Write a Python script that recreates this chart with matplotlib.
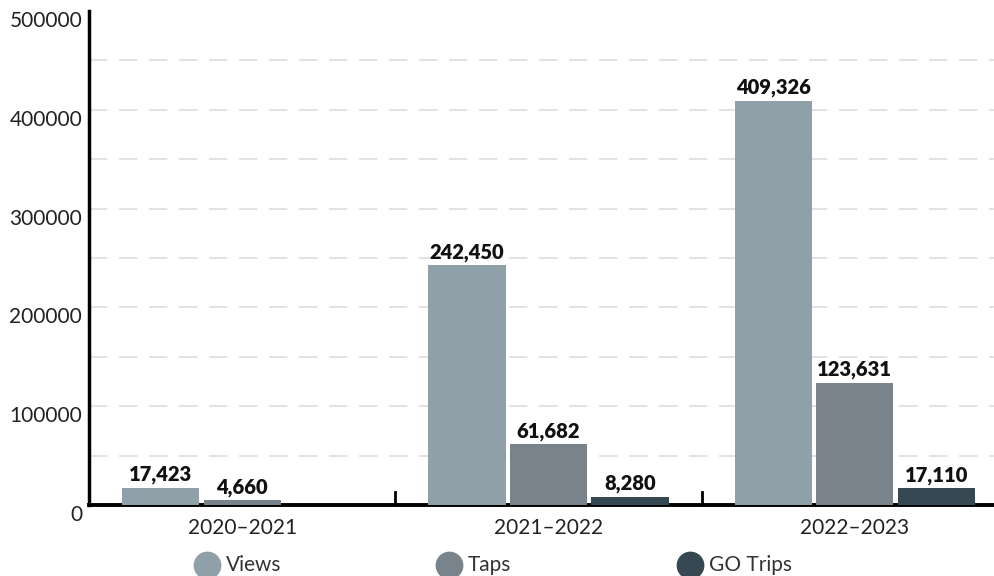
import numpy as np
import matplotlib
matplotlib.use("Agg")
import matplotlib.pyplot as plt
from matplotlib.lines import Line2D
import matplotlib.transforms as mtransforms

categories = ["2020\u20132021", "2021\u20132022", "2022\u20132023"]
series_names = ["Views", "Taps", "GO Trips"]
views = [17423, 242450, 409326]
taps = [4660, 61682, 123631]
go_trips = [None, 8280, 17110]
colors = ["#8fa0a9", "#78838b", "#364953"]

plt.rcParams['font.family'] = ['Lato', 'DejaVu Sans']

fig = plt.figure(figsize=(9.95, 5.76), dpi=100)
W, H = 995, 576
ax_left, ax_right = 89, 1008
ax_top, ax_bottom = 11, 505
ax = fig.add_axes([ax_left / W, 1 - ax_bottom / H, (ax_right - ax_left) / W, (ax_bottom - ax_top) / H])

x = np.arange(len(categories))
width = 0.252
offset = 0.266
all_series = [views, taps, go_trips]
for i, (vals, col) in enumerate(zip(all_series, colors)):
    pos = x + (i - 1) * offset
    v = [np.nan if a is None else a for a in vals]
    ax.bar(pos, v, width=width, color=col, zorder=3)
    for p, a in zip(pos, vals):
        if a is None:
            continue
        ax.text(p, a + 3500, f"{a:,}", ha="center", va="bottom",
                fontsize=14.5, fontweight="heavy", color="#111111", zorder=4)

ax.set_xlim(-0.5, 2.5)
ax.set_ylim(0, 500000)
ax.set_yticks(np.arange(0, 500001, 100000))
ax.set_yticklabels([str(v) for v in range(0, 500001, 100000)])
for gy in np.arange(50000, 500000, 50000):
    ax.axhline(gy, color="#dddddd", lw=1.2, dashes=(11, 7), zorder=1)

ax.set_xticks(x)
ax.set_xticklabels(categories)
ax.tick_params(axis="x", length=0, pad=9, labelsize=15, labelcolor="#222222")
ax.tick_params(axis="y", length=0, pad=5, labelsize=15, labelcolor="#222222")
shift = mtransforms.ScaledTranslation(0, -8 / 100, fig.dpi_scale_trans)
for lbl in ax.get_yticklabels():
    lbl.set_transform(lbl.get_transform() + shift)

# group boundary ticks
for b in [0.5, 1.5]:
    ax.plot([b, b], [0, 13000], color="black", lw=2, zorder=4, clip_on=False)

for s in ["top", "right"]:
    ax.spines[s].set_visible(False)
ax.spines["left"].set_linewidth(2.5)
ax.spines["bottom"].set_linewidth(2.8)
ax.spines["left"].set_color("black")
ax.spines["bottom"].set_color("black")

# legend, drawn as fixed-width items
leg_x = [207, 449, 690]
leg_y = 565
for lx, name, col in zip(leg_x, series_names, colors):
    fig.add_artist(Line2D([lx / W], [1 - leg_y / H], marker="o", linestyle="",
                          markersize=19, markerfacecolor=col, markeredgecolor=col,
                          transform=fig.transFigure))
    fig.text((lx + 19) / W, 1 - leg_y / H, name, ha="left", va="center",
             fontsize=15, color="#333333")

fig.savefig("out.png", dpi=100)
